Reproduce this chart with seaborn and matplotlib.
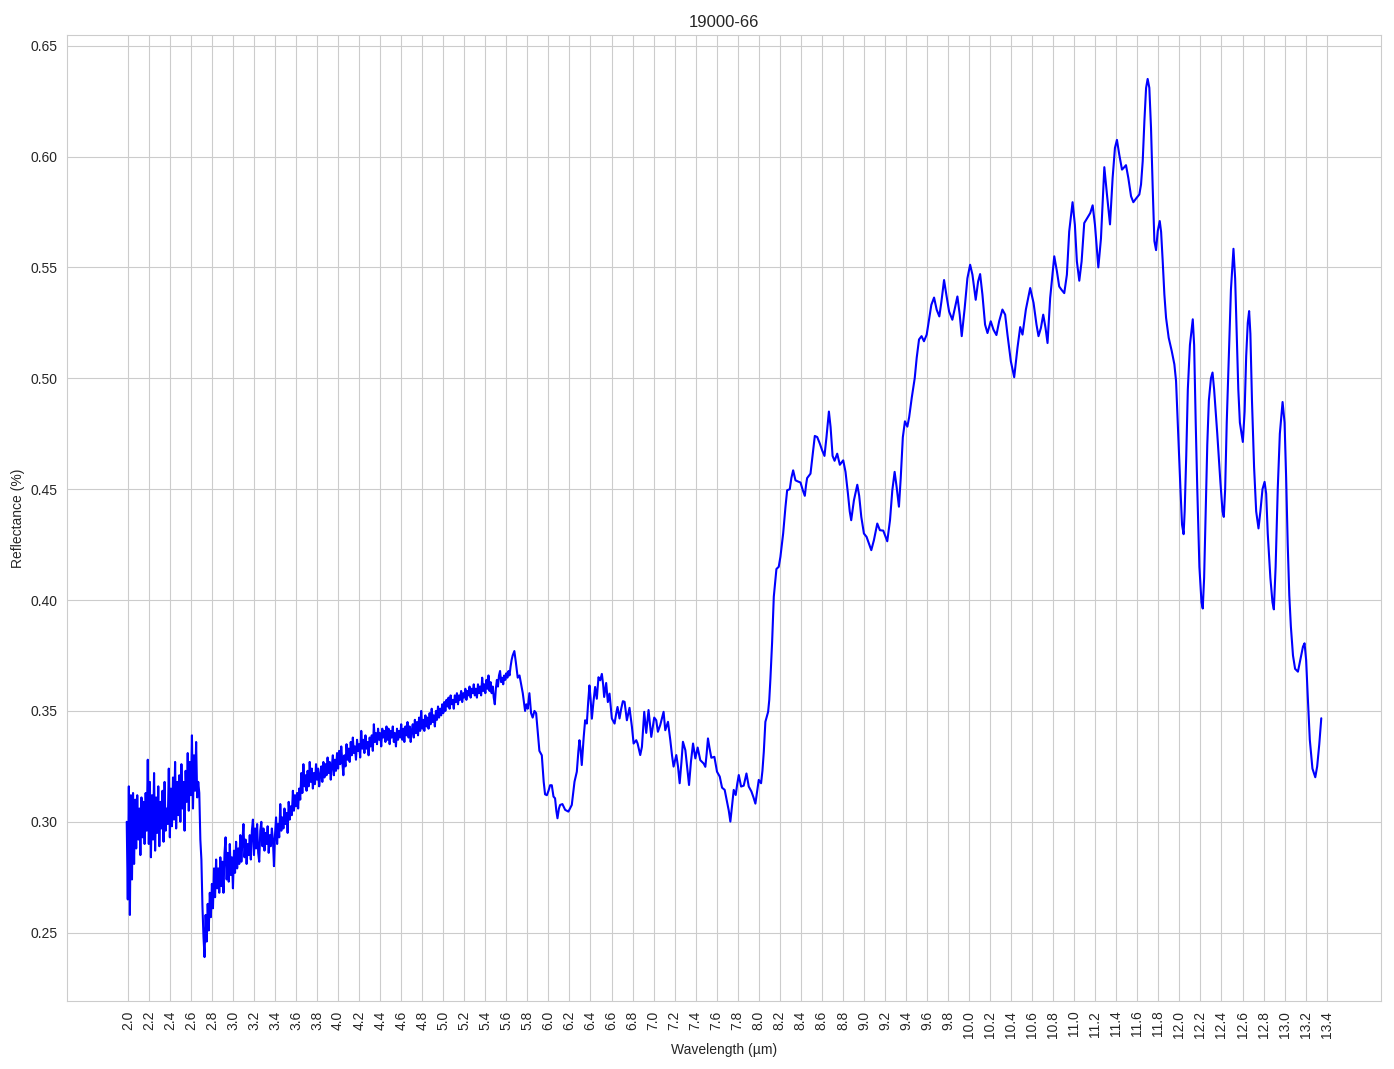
import numpy as np
import pandas as pd
import matplotlib
matplotlib.use("Agg")
import matplotlib.pyplot as plt
import seaborn as sns

# ---- data ----
TITLE = "19000-66"
X_LABEL = "Wavelength (µm)"
Y_LABEL = "Reflectance (%)"

# noisy part of the spectrum, sampled every 0.01 µm starting at 1.99 µm
noisy_start = 1.99
noisy_step = 0.01
noisy_a = [  # 1.99 - 2.68
    0.300, 0.265, 0.316, 0.258, 0.312, 0.274, 0.313, 0.281, 0.310, 0.288,
    0.312, 0.292, 0.306, 0.285, 0.311, 0.293, 0.309, 0.290, 0.313, 0.296,
    0.328, 0.290, 0.318, 0.284, 0.312, 0.292, 0.322, 0.287, 0.311, 0.295,
    0.316, 0.289, 0.309, 0.297, 0.314, 0.291, 0.318, 0.296, 0.306, 0.299,
    0.324, 0.293, 0.315, 0.298, 0.320, 0.301, 0.327, 0.297, 0.318, 0.303,
    0.321, 0.300, 0.326, 0.306, 0.318, 0.296, 0.323, 0.309, 0.331, 0.305,
    0.327, 0.312, 0.339, 0.306, 0.330, 0.314, 0.336, 0.311, 0.318, 0.313,
]
noisy_b = [  # 2.69 - 3.98
    0.292, 0.283, 0.262, 0.248, 0.239, 0.258, 0.246, 0.263, 0.251, 0.268,
    0.257, 0.272, 0.261, 0.279, 0.266, 0.283, 0.270, 0.279, 0.268, 0.284,
    0.271, 0.282, 0.268, 0.286, 0.293, 0.274, 0.286, 0.273, 0.290, 0.276,
    0.284, 0.270, 0.287, 0.277, 0.291, 0.279, 0.288, 0.281, 0.294, 0.282,
    0.291, 0.299, 0.284, 0.292, 0.281, 0.290, 0.285, 0.294, 0.283, 0.296,
    0.301, 0.285, 0.297, 0.288, 0.299, 0.286, 0.282, 0.296, 0.300, 0.289,
    0.297, 0.287, 0.295, 0.290, 0.298, 0.286, 0.294, 0.289, 0.297, 0.292,
    0.280, 0.294, 0.302, 0.290, 0.299, 0.293, 0.308, 0.296, 0.302, 0.297,
    0.306, 0.299, 0.304, 0.295, 0.309, 0.301, 0.307, 0.303, 0.314, 0.305,
    0.312, 0.307, 0.313, 0.306, 0.315, 0.310, 0.322, 0.313, 0.326, 0.316,
    0.321, 0.314, 0.323, 0.316, 0.327, 0.318, 0.324, 0.315, 0.322, 0.317,
    0.326, 0.319, 0.324, 0.316, 0.321, 0.325, 0.318, 0.327, 0.320, 0.326,
    0.321, 0.329, 0.322, 0.327, 0.319, 0.325, 0.330, 0.321, 0.328, 0.323,
]
noisy_c = [  # 3.99 - 5.66
    0.331, 0.324, 0.332, 0.326, 0.334, 0.327, 0.321, 0.330, 0.325, 0.335,
    0.328, 0.333, 0.327, 0.336, 0.330, 0.338, 0.331, 0.334, 0.328, 0.337,
    0.332, 0.335, 0.329, 0.341, 0.333, 0.337, 0.331, 0.339, 0.333, 0.336,
    0.330, 0.338, 0.334, 0.339, 0.332, 0.344, 0.336, 0.340, 0.335, 0.342,
    0.337, 0.340, 0.334, 0.342, 0.338, 0.341, 0.336, 0.343, 0.337, 0.342,
    0.335, 0.341, 0.338, 0.343, 0.336, 0.340, 0.334, 0.342, 0.337, 0.341,
    0.338, 0.344, 0.337, 0.342, 0.336, 0.343, 0.339, 0.345, 0.338, 0.343,
    0.336, 0.341, 0.344, 0.338, 0.346, 0.340, 0.345, 0.339, 0.347, 0.341,
    0.350, 0.342, 0.346, 0.341, 0.348, 0.343, 0.347, 0.342, 0.349, 0.344,
    0.351, 0.345, 0.348, 0.343, 0.350, 0.346, 0.352, 0.347, 0.351, 0.348,
    0.353, 0.349, 0.354, 0.350, 0.355, 0.352, 0.356, 0.351, 0.357, 0.353,
    0.355, 0.351, 0.357, 0.354, 0.358, 0.353, 0.357, 0.355, 0.359, 0.354,
    0.358, 0.356, 0.360, 0.355, 0.359, 0.357, 0.361, 0.356, 0.360, 0.358,
    0.362, 0.357, 0.360, 0.356, 0.362, 0.358, 0.361, 0.357, 0.365, 0.359,
    0.362, 0.358, 0.364, 0.360, 0.366, 0.359, 0.363, 0.358, 0.361, 0.356,
    0.353, 0.360, 0.364, 0.361, 0.366, 0.368, 0.363, 0.365, 0.362, 0.366,
    0.364, 0.367, 0.365, 0.368, 0.366, 0.370, 0.373, 0.375,
]

# smooth part of the spectrum (wavelength, reflectance)
wl_smooth = [
    5.676, 5.69, 5.708, 5.725, 5.74, 5.756, 5.778, 5.79, 5.803, 5.819, 5.835, 5.85,
    5.867, 5.883, 5.898, 5.914, 5.937, 5.955, 5.968, 5.985, 6.0, 6.016, 6.032, 6.048,
    6.063, 6.075, 6.086, 6.1, 6.111, 6.133, 6.159, 6.19, 6.222, 6.235, 6.248, 6.27,
    6.285, 6.295, 6.305, 6.317, 6.335, 6.349, 6.365, 6.378, 6.39, 6.4, 6.413, 6.428,
    6.444, 6.46, 6.476, 6.492, 6.508, 6.52, 6.53, 6.549, 6.565, 6.581, 6.603, 6.629,
    6.645, 6.657, 6.676, 6.692, 6.708, 6.724, 6.746, 6.771, 6.794, 6.81, 6.835, 6.848,
    6.873, 6.889, 6.9, 6.911, 6.93, 6.952, 6.978, 7.006, 7.025, 7.041, 7.063, 7.095,
    7.111, 7.137, 7.159, 7.175, 7.19, 7.216, 7.232, 7.248, 7.265, 7.279, 7.302, 7.32,
    7.337, 7.355, 7.375, 7.397, 7.419, 7.444, 7.476, 7.492, 7.505, 7.517, 7.533, 7.549,
    7.578, 7.603, 7.629, 7.651, 7.676, 7.698, 7.715, 7.73, 7.745, 7.762, 7.781, 7.795,
    7.81, 7.832, 7.857, 7.883, 7.905, 7.93, 7.95, 7.968, 7.985, 8.0, 8.022, 8.035,
    8.048, 8.063, 8.089, 8.1, 8.111, 8.127, 8.143, 8.168, 8.19, 8.206, 8.232, 8.254,
    8.27, 8.295, 8.31, 8.327, 8.349, 8.371, 8.397, 8.419, 8.438, 8.45, 8.46, 8.492,
    8.514, 8.533, 8.556, 8.581, 8.603, 8.625, 8.644, 8.667, 8.683, 8.702, 8.721, 8.746,
    8.771, 8.803, 8.825, 8.848, 8.865, 8.879, 8.905, 8.937, 8.955, 8.975, 9.0, 9.025,
    9.048, 9.07, 9.095, 9.127, 9.152, 9.184, 9.222, 9.248, 9.27, 9.292, 9.311, 9.333,
    9.35, 9.37, 9.39, 9.413, 9.43, 9.455, 9.483, 9.502, 9.524, 9.548, 9.571, 9.597,
    9.619, 9.641, 9.667, 9.692, 9.717, 9.737, 9.762, 9.784, 9.81, 9.841, 9.862, 9.889,
    9.911, 9.93, 9.958, 9.984, 10.01, 10.032, 10.063, 10.086, 10.105, 10.127, 10.152, 10.175,
    10.206, 10.232, 10.26, 10.286, 10.317, 10.343, 10.365, 10.397, 10.429, 10.46, 10.486, 10.508,
    10.54, 10.581, 10.613, 10.641, 10.66, 10.683, 10.705, 10.727, 10.746, 10.771, 10.81, 10.835,
    10.857, 10.879, 10.905, 10.93, 10.952, 10.984, 11.006, 11.025, 11.048, 11.07, 11.095, 11.127,
    11.152, 11.175, 11.197, 11.229, 11.254, 11.286, 11.311, 11.34, 11.365, 11.387, 11.406, 11.428,
    11.454, 11.476, 11.492, 11.514, 11.54, 11.562, 11.587, 11.619, 11.635, 11.651, 11.667, 11.683,
    11.698, 11.714, 11.73, 11.746, 11.762, 11.778, 11.794, 11.813, 11.826, 11.841, 11.857, 11.873,
    11.898, 11.927, 11.952, 11.968, 11.984, 12.01, 12.025, 12.04, 12.05, 12.065, 12.08, 12.1,
    12.127, 12.14, 12.155, 12.17, 12.19, 12.21, 12.222, 12.235, 12.25, 12.265, 12.28, 12.3,
    12.315, 12.33, 12.36, 12.39, 12.41, 12.422, 12.435, 12.45, 12.47, 12.49, 12.514, 12.53,
    12.545, 12.56, 12.575, 12.603, 12.62, 12.635, 12.65, 12.663, 12.675, 12.69, 12.71, 12.73,
    12.752, 12.77, 12.79, 12.81, 12.825, 12.84, 12.865, 12.885, 12.898, 12.915, 12.935, 12.955,
    12.981, 13.0, 13.015, 13.03, 13.045, 13.06, 13.08, 13.1, 13.127, 13.15, 13.175, 13.19,
    13.205, 13.22, 13.24, 13.265, 13.292, 13.31, 13.33, 13.349,
]
refl_smooth = [
    0.377, 0.372, 0.365, 0.366, 0.362, 0.358, 0.350, 0.353, 0.351, 0.358, 0.349, 0.347,
    0.350, 0.349, 0.341, 0.332, 0.330, 0.318, 0.3124, 0.312, 0.3139, 0.3165, 0.3165, 0.3114,
    0.3106, 0.305, 0.3016, 0.306, 0.3076, 0.308, 0.3054, 0.3046, 0.3076, 0.313, 0.3181, 0.3226,
    0.332, 0.3368, 0.333, 0.3256, 0.338, 0.3458, 0.3443, 0.354, 0.3615, 0.356, 0.3465, 0.354,
    0.3608, 0.3555, 0.3652, 0.3638, 0.3667, 0.362, 0.3563, 0.3626, 0.3540, 0.3578, 0.3466, 0.3443,
    0.349, 0.3518, 0.3466, 0.351, 0.3544, 0.3541, 0.3458, 0.3514, 0.3428, 0.3353, 0.3368, 0.3353,
    0.3301, 0.3338, 0.342, 0.3496, 0.3401, 0.3504, 0.3383, 0.3470, 0.3458, 0.3406, 0.3436, 0.3496,
    0.3413, 0.3451, 0.3368, 0.330, 0.3249, 0.3301, 0.325, 0.3174, 0.327, 0.3361, 0.3323, 0.324,
    0.3166, 0.327, 0.3353, 0.3286, 0.3335, 0.3278, 0.3263, 0.3248, 0.331, 0.3376, 0.333, 0.3289,
    0.3293, 0.3226, 0.3204, 0.3154, 0.3144, 0.3091, 0.305, 0.3001, 0.307, 0.3144, 0.3121, 0.317,
    0.3211, 0.3159, 0.3163, 0.3218, 0.3159, 0.3137, 0.311, 0.3082, 0.314, 0.3189, 0.3174, 0.323,
    0.3316, 0.3451, 0.3496, 0.355, 0.3646, 0.381, 0.4015, 0.414, 0.415, 0.4195, 0.430, 0.442,
    0.4495, 0.450, 0.455, 0.4585, 0.454, 0.4535, 0.453, 0.4495, 0.447, 0.452, 0.455, 0.457,
    0.466, 0.474, 0.4735, 0.4705, 0.4675, 0.465, 0.4735, 0.485, 0.478, 0.465, 0.4628, 0.466,
    0.461, 0.463, 0.4578, 0.448, 0.440, 0.436, 0.445, 0.452, 0.447, 0.4375, 0.430, 0.4285,
    0.4255, 0.4225, 0.427, 0.4345, 0.4315, 0.4313, 0.4265, 0.436, 0.4495, 0.4578, 0.451, 0.4421,
    0.455, 0.4734, 0.4806, 0.4782, 0.4824, 0.4913, 0.500, 0.5093, 0.5175, 0.519, 0.5167, 0.5197,
    0.5264, 0.5331, 0.5364, 0.5309, 0.5279, 0.5346, 0.5443, 0.5376, 0.5301, 0.5264, 0.531, 0.5369,
    0.5287, 0.519, 0.5316, 0.5451, 0.5512, 0.5467, 0.5354, 0.5437, 0.547, 0.5377, 0.5242, 0.5204,
    0.5257, 0.5219, 0.5195, 0.5257, 0.531, 0.5287, 0.5197, 0.5077, 0.5005, 0.5137, 0.5231, 0.5197,
    0.531, 0.5407, 0.534, 0.5242, 0.519, 0.5227, 0.5287, 0.5227, 0.5159, 0.5362, 0.555, 0.5483,
    0.5414, 0.5399, 0.5384, 0.5467, 0.5662, 0.5794, 0.5692, 0.5527, 0.544, 0.5527, 0.570, 0.5725,
    0.5745, 0.578, 0.5692, 0.550, 0.563, 0.5952, 0.5829, 0.5694, 0.5904, 0.6039, 0.6075, 0.6009,
    0.5941, 0.5952, 0.5961, 0.5904, 0.5821, 0.5794, 0.581, 0.5829, 0.5874, 0.5979, 0.6159, 0.6309,
    0.635, 0.631, 0.6129, 0.5859, 0.5619, 0.5578, 0.5664, 0.5709, 0.566, 0.5529, 0.5378, 0.5273,
    0.5183, 0.5123, 0.5063, 0.4988, 0.480, 0.450, 0.434, 0.4297, 0.440, 0.465, 0.495, 0.515,
    0.5266, 0.515, 0.480, 0.450, 0.415, 0.399, 0.3962, 0.410, 0.440, 0.470, 0.490, 0.500,
    0.5026, 0.495, 0.475, 0.453, 0.440, 0.4375, 0.450, 0.480, 0.510, 0.540, 0.5584, 0.545,
    0.520, 0.495, 0.480, 0.4713, 0.485, 0.510, 0.525, 0.5303, 0.520, 0.490, 0.460, 0.440,
    0.4323, 0.440, 0.450, 0.4533, 0.448, 0.430, 0.410, 0.399, 0.3958, 0.415, 0.450, 0.475,
    0.4893, 0.480, 0.455, 0.425, 0.402, 0.388, 0.375, 0.369, 0.3677, 0.373, 0.379, 0.3805,
    0.373, 0.357, 0.337, 0.324, 0.3201, 0.325, 0.335, 0.3467,
]

x_tick_values = [round(2.0 + 0.2 * i, 1) for i in range(58)]
x_tick_labels = [f"{v:.1f}" for v in x_tick_values]

# ---- build the table ----
noisy_refl = noisy_a + noisy_b + noisy_c
noisy_wl = [round(noisy_start + noisy_step * i, 2) for i in range(len(noisy_refl))]
df = pd.DataFrame({
    "wl": noisy_wl + wl_smooth,
    "refl": noisy_refl + refl_smooth,
})

# ---- plot ----
sns.set_style("whitegrid")
plt.rcParams["font.family"] = ["Liberation Sans", "DejaVu Sans"]
fig, ax = plt.subplots(figsize=(13.94, 10.69), dpi=100)
sns.lineplot(data=df, x="wl", y="refl", color="blue", linewidth=1.5,
             estimator=None, sort=False, ax=ax)
ax.set_xticks(x_tick_values)
ax.set_xticklabels(x_tick_labels, rotation=90)
ax.set_title(TITLE)
ax.set_xlabel(X_LABEL)
ax.set_ylabel(Y_LABEL)

fig.subplots_adjust(left=67 / 1394, right=1381 / 1394,
                    top=1 - 35 / 1069, bottom=1 - 1001 / 1069)
fig.savefig("out.png", dpi=100)
